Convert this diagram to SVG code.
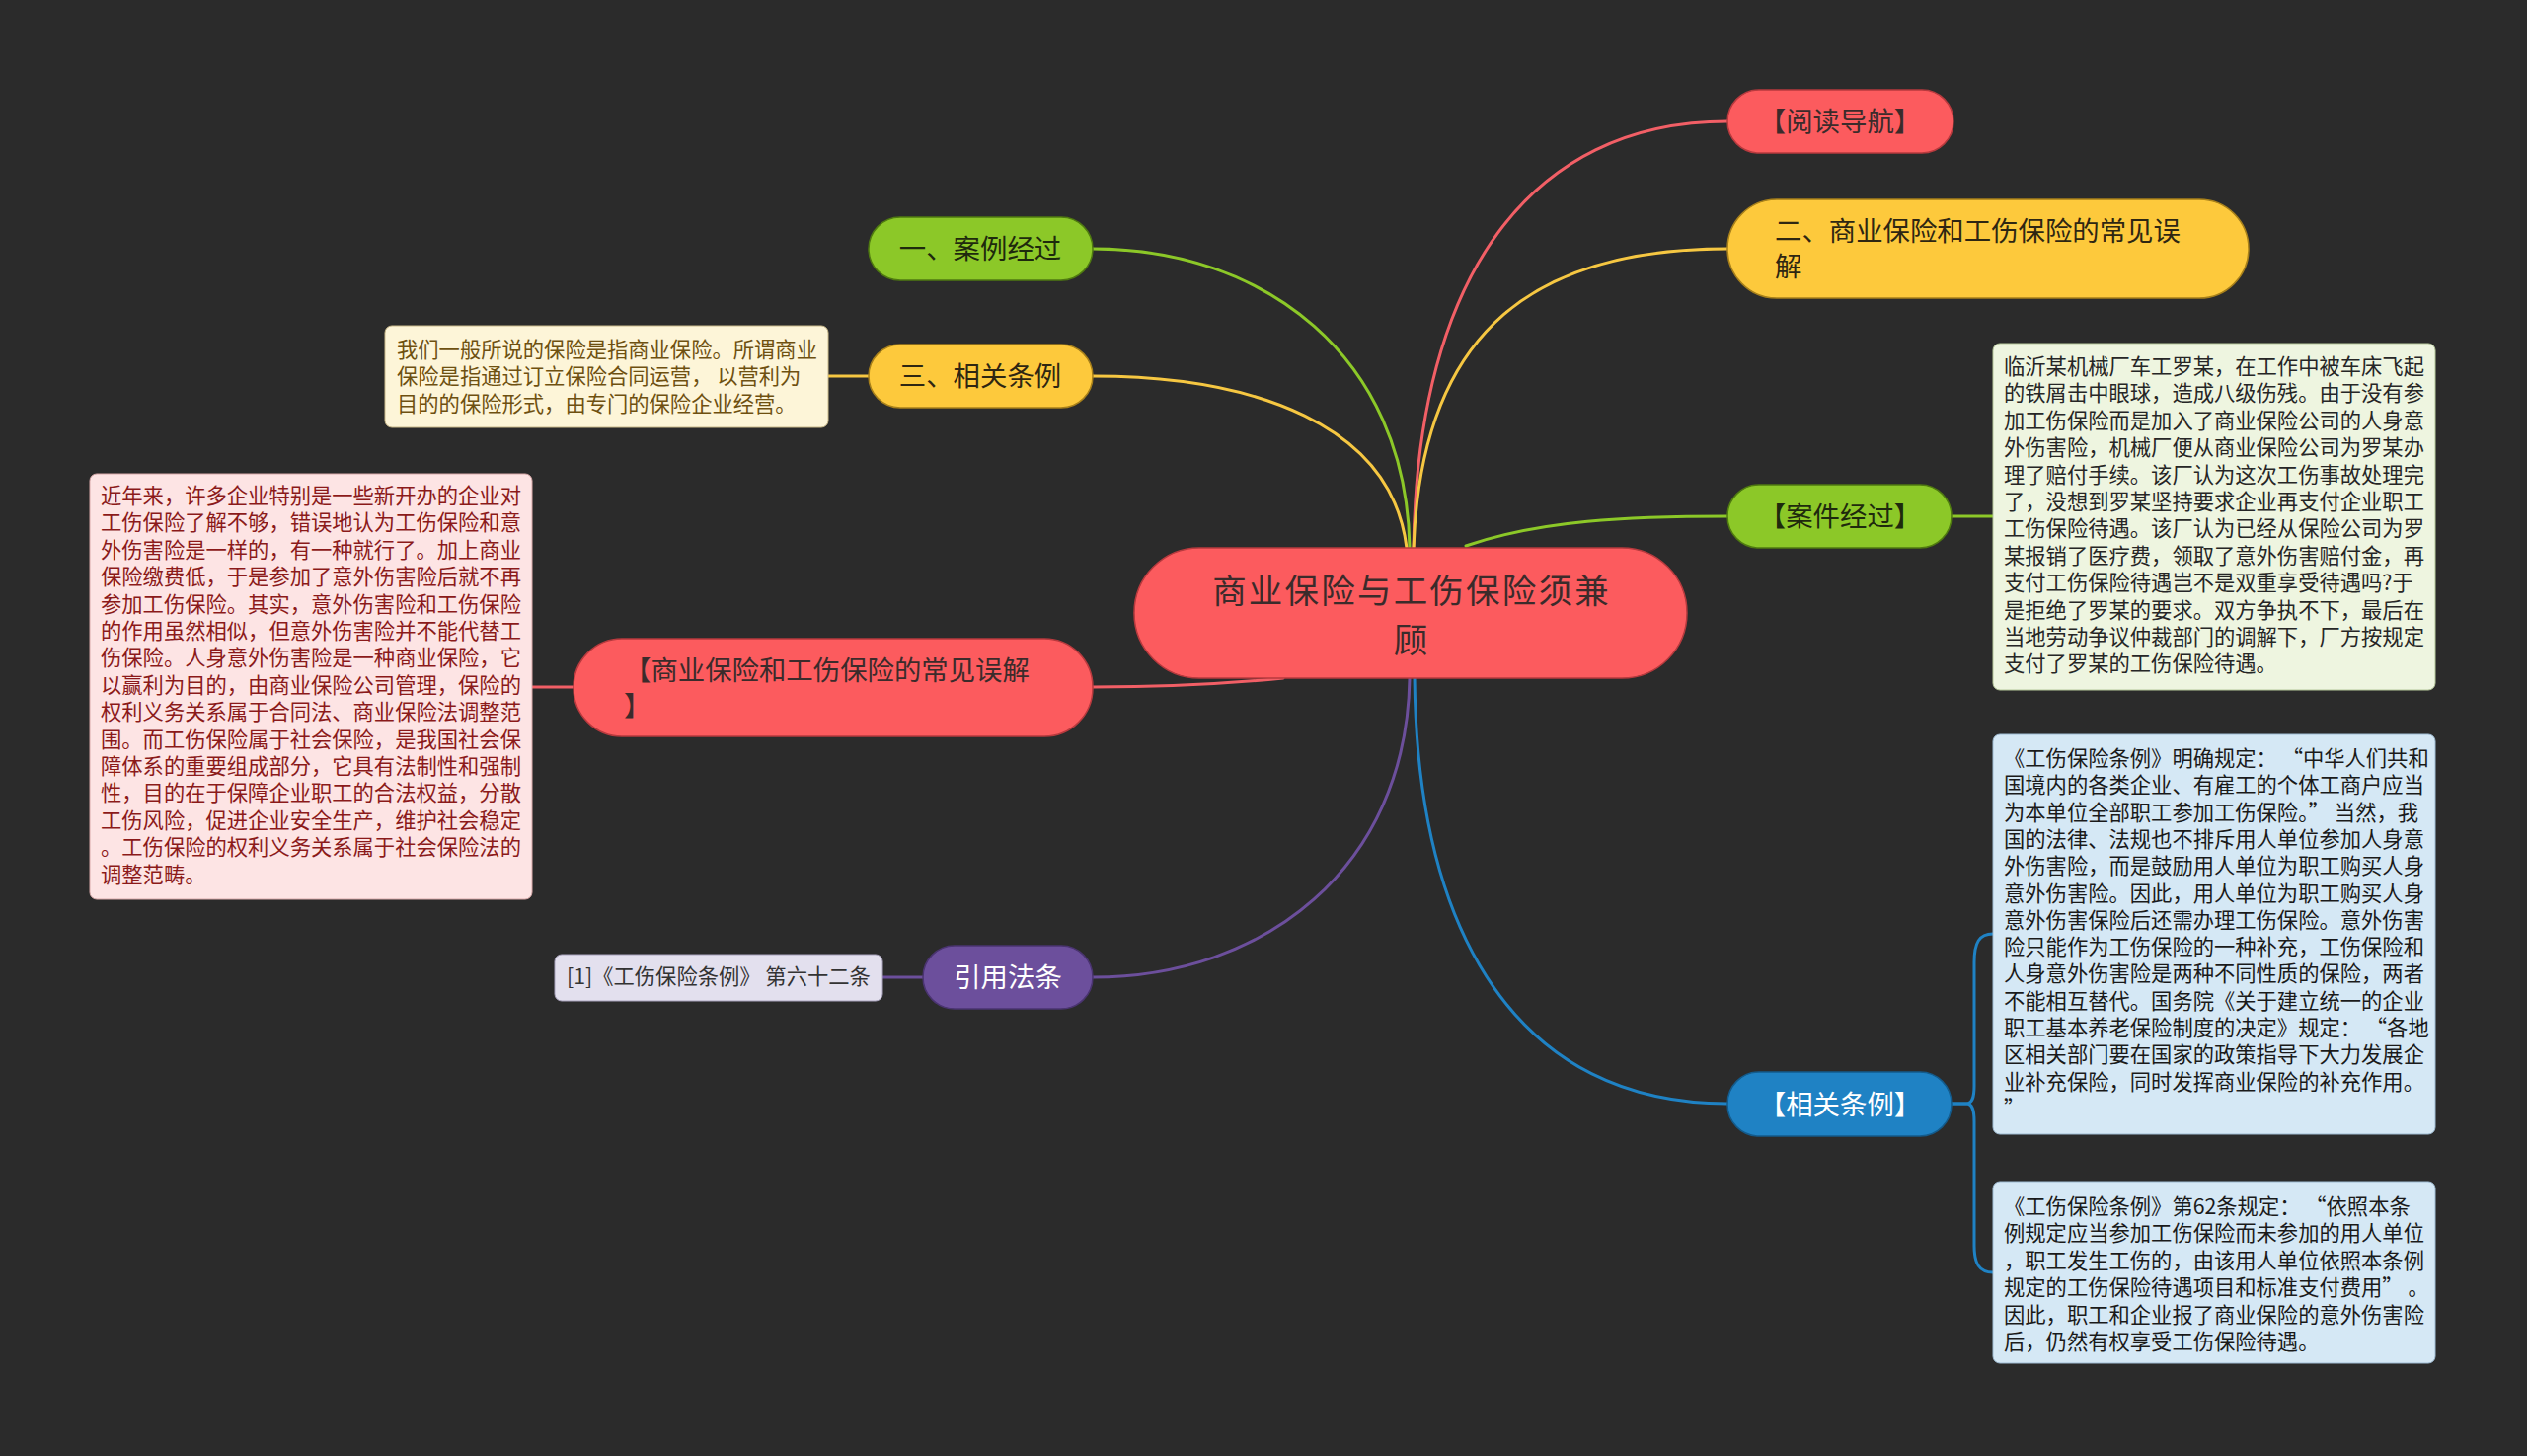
<svg xmlns="http://www.w3.org/2000/svg" width="2560" height="1475" viewBox="0 0 2560 1475">
<style>
text{font-family:"Noto Sans CJK SC","Noto Sans",sans-serif;}
.n{font-size:27.4px;text-anchor:middle;}
.nl{font-size:27.4px;}
.b{font-size:21.3px;}
.lk{fill:none;stroke-width:3;stroke-linecap:round;}
.red{fill:#fc5b5e;stroke:#b83a3e;stroke-width:1.5;}
.yel{fill:#fdc93c;stroke:#a8801a;stroke-width:1.5;}
.grn{fill:#8cc828;stroke:#4f7a10;stroke-width:1.5;}
.blu{fill:#1f82c4;stroke:#135b8c;stroke-width:1.5;}
.pur{fill:#6c4f9c;stroke:#4a3470;stroke-width:1.5;}
</style>
<rect width="2560" height="1475" fill="#2b2b2b"/>
<g id="connectors">
<path class="lk" stroke="#f25f66" d="M1432 555 C1436 280 1550 123 1750 123"/>
<path class="lk" stroke="#f6c742" d="M1432 555 C1440 330 1560 252 1750 252"/>
<path class="lk" stroke="#8cc828" d="M1485 553 C1560 527 1650 523 1750 523"/>
<path class="lk" stroke="#8cc828" d="M1107 252 C1280 252 1425 360 1428 555"/>
<path class="lk" stroke="#f6c742" d="M1107 381 C1270 381 1410 430 1425 555"/>
<path class="lk" stroke="#f25f66" d="M1107 696 C1180 696 1250 692 1300 687"/>
<path class="lk" stroke="#6c4f9c" d="M1107 990 C1280 990 1425 880 1428 687"/>
<path class="lk" stroke="#1f82c4" d="M1433 687 C1436 950 1540 1118 1750 1118"/>
<path class="lk" stroke="#f6c742" d="M839 381 L880 381"/>
<path class="lk" stroke="#f25f66" d="M539 696 L581 696"/>
<path class="lk" stroke="#6c4f9c" d="M894 990 L935 990"/>
<path class="lk" stroke="#8cc828" d="M1977 523 L2019 523"/>
<path class="lk" stroke="#1f82c4" d="M1977 1118 L1992 1118 C1998 1118 2000 1112 2000 1100 L2000 975 C2000 955 2005 946 2019 946"/>
<path class="lk" stroke="#1f82c4" d="M1977 1118 L1992 1118 C1998 1118 2000 1124 2000 1136 L2000 1262 C2000 1280 2005 1289 2019 1289"/>
</g>
<g id="center">
<rect class="red" x="1149" y="555" width="560" height="132" rx="66"/>
<text font-size="34.5" letter-spacing="2.2" text-anchor="middle" fill="#3b2b2b"><tspan x="1430" y="611">商业保险与工伤保险须兼</tspan><tspan x="1430" y="661">顾</tspan></text>
</g>
<g id="n-daohang">
<rect class="red" x="1750" y="91" width="229" height="64" rx="32"/>
<text class="n" x="1864" y="133" fill="#3b2b2b">【阅读导航】</text>
</g>
<g id="n-wujie2">
<rect class="yel" x="1750" y="202" width="528" height="100" rx="50"/>
<text class="nl" fill="#2e2612"><tspan x="1798" y="244">二、商业保险和工伤保险的常见误</tspan><tspan x="1798" y="280">解</tspan></text>
</g>
<g id="n-anjian">
<rect class="grn" x="1750" y="491" width="227" height="64" rx="32"/>
<text class="n" x="1864" y="533" fill="#1e2a0d">【案件经过】</text>
</g>
<g id="n-tiaoli">
<rect class="blu" x="1750" y="1086" width="227" height="65" rx="32"/>
<text class="n" x="1864" y="1129" fill="#ffffff">【相关条例】</text>
</g>
<g id="n-anli1">
<rect class="grn" x="880" y="220" width="227" height="64" rx="32"/>
<text class="n" x="993" y="262" fill="#1e2a0d">一、案例经过</text>
</g>
<g id="n-tiaoli3">
<rect class="yel" x="880" y="349" width="227" height="64" rx="32"/>
<text class="n" x="993" y="391" fill="#2e2612">三、相关条例</text>
</g>
<g id="n-wujie">
<rect class="red" x="581" y="647" width="526" height="99" rx="49"/>
<text class="nl" fill="#3b2b2b"><tspan x="632" y="689">【商业保险和工伤保险的常见误解</tspan><tspan x="632" y="725">】</tspan></text>
</g>
<g id="n-yinyong">
<rect class="pur" x="935" y="958" width="172" height="64" rx="32"/>
<text class="n" x="1021" y="1000" fill="#ffffff">引用法条</text>
</g>
<g id="b-beige">
<rect x="390" y="330" width="449" height="103" rx="7" fill="#fdf5d8" stroke="#c9b98a" stroke-width="1"/>
<g class="b" fill="#6e5010">
<text x="402" y="362">我们一般所说的保险是指商业保险。所谓商业</text>
<text x="402" y="389">保险是指通过订立保险合同运营， 以营利为</text>
<text x="402" y="417">目的的保险形式，由专门的保险企业经营。</text>
</g>
</g>
<g id="b-pink">
<rect x="91" y="480" width="448" height="431" rx="7" fill="#fde4e4" stroke="#d9a9a9" stroke-width="1"/>
<g class="b" fill="#8b1a1a">
<text x="102" y="510">近年来，许多企业特别是一些新开办的企业对</text>
<text x="102" y="537.4">工伤保险了解不够，错误地认为工伤保险和意</text>
<text x="102" y="564.8">外伤害险是一样的，有一种就行了。加上商业</text>
<text x="102" y="592.2">保险缴费低，于是参加了意外伤害险后就不再</text>
<text x="102" y="619.6">参加工伤保险。其实，意外伤害险和工伤保险</text>
<text x="102" y="647">的作用虽然相似，但意外伤害险并不能代替工</text>
<text x="102" y="674.4">伤保险。人身意外伤害险是一种商业保险，它</text>
<text x="102" y="701.8">以赢利为目的，由商业保险公司管理，保险的</text>
<text x="102" y="729.2">权利义务关系属于合同法、商业保险法调整范</text>
<text x="102" y="756.6">围。而工伤保险属于社会保险，是我国社会保</text>
<text x="102" y="784">障体系的重要组成部分，它具有法制性和强制</text>
<text x="102" y="811.4">性，目的在于保障企业职工的合法权益，分散</text>
<text x="102" y="838.8">工伤风险，促进企业安全生产，维护社会稳定</text>
<text x="102" y="866.2">。工伤保险的权利义务关系属于社会保险法的</text>
<text x="102" y="893.6">调整范畴。</text>
</g>
</g>
<g id="b-lavender">
<rect x="562" y="967" width="332" height="47" rx="7" fill="#e3e0ee" stroke="#a8a2bc" stroke-width="1"/>
<text class="b" x="574" y="997" fill="#333333">[1]《工伤保险条例》 第六十二条</text>
</g>
<g id="b-green">
<rect x="2019" y="348" width="448" height="351" rx="7" fill="#eef5e0" stroke="#b5c79a" stroke-width="1"/>
<g class="b" fill="#262626">
<text x="2030" y="379">临沂某机械厂车工罗某，在工作中被车床飞起</text>
<text x="2030" y="406.4">的铁屑击中眼球，造成八级伤残。由于没有参</text>
<text x="2030" y="433.8">加工伤保险而是加入了商业保险公司的人身意</text>
<text x="2030" y="461.2">外伤害险，机械厂便从商业保险公司为罗某办</text>
<text x="2030" y="488.6">理了赔付手续。该厂认为这次工伤事故处理完</text>
<text x="2030" y="516">了，没想到罗某坚持要求企业再支付企业职工</text>
<text x="2030" y="543.4">工伤保险待遇。该厂认为已经从保险公司为罗</text>
<text x="2030" y="570.8">某报销了医疗费，领取了意外伤害赔付金，再</text>
<text x="2030" y="598.2">支付工伤保险待遇岂不是双重享受待遇吗?于</text>
<text x="2030" y="625.6">是拒绝了罗某的要求。双方争执不下，最后在</text>
<text x="2030" y="653">当地劳动争议仲裁部门的调解下，厂方按规定</text>
<text x="2030" y="680.4">支付了罗某的工伤保险待遇。</text>
</g>
</g>
<g id="b-blue1">
<rect x="2019" y="744" width="448" height="405" rx="7" fill="#d5e8f5" stroke="#9fbcd3" stroke-width="1"/>
<g class="b" fill="#1a1a1a">
<text x="2030" y="776">《工伤保险条例》明确规定： “中华人们共和</text>
<text x="2030" y="803.3">国境内的各类企业、有雇工的个体工商户应当</text>
<text x="2030" y="830.6">为本单位全部职工参加工伤保险。” 当然，我</text>
<text x="2030" y="857.9">国的法律、法规也不排斥用人单位参加人身意</text>
<text x="2030" y="885.2">外伤害险，而是鼓励用人单位为职工购买人身</text>
<text x="2030" y="912.5">意外伤害险。因此，用人单位为职工购买人身</text>
<text x="2030" y="939.8">意外伤害保险后还需办理工伤保险。意外伤害</text>
<text x="2030" y="967.1">险只能作为工伤保险的一种补充，工伤保险和</text>
<text x="2030" y="994.4">人身意外伤害险是两种不同性质的保险，两者</text>
<text x="2030" y="1021.7">不能相互替代。国务院《关于建立统一的企业</text>
<text x="2030" y="1049">职工基本养老保险制度的决定》规定： “各地</text>
<text x="2030" y="1076.3">区相关部门要在国家的政策指导下大力发展企</text>
<text x="2030" y="1103.6">业补充保险，同时发挥商业保险的补充作用。</text>
<text x="2030" y="1130.9">”</text>
</g>
</g>
<g id="b-blue2">
<rect x="2019" y="1197" width="448" height="184" rx="7" fill="#d5e8f5" stroke="#9fbcd3" stroke-width="1"/>
<g class="b" fill="#1a1a1a">
<text x="2030" y="1230">《工伤保险条例》第62条规定： “依照本条</text>
<text x="2030" y="1257.4">例规定应当参加工伤保险而未参加的用人单位</text>
<text x="2030" y="1284.8">，职工发生工伤的，由该用人单位依照本条例</text>
<text x="2030" y="1312.2">规定的工伤保险待遇项目和标准支付费用” 。</text>
<text x="2030" y="1339.6">因此，职工和企业报了商业保险的意外伤害险</text>
<text x="2030" y="1367">后，仍然有权享受工伤保险待遇。</text>
</g>
</g>
</svg>
